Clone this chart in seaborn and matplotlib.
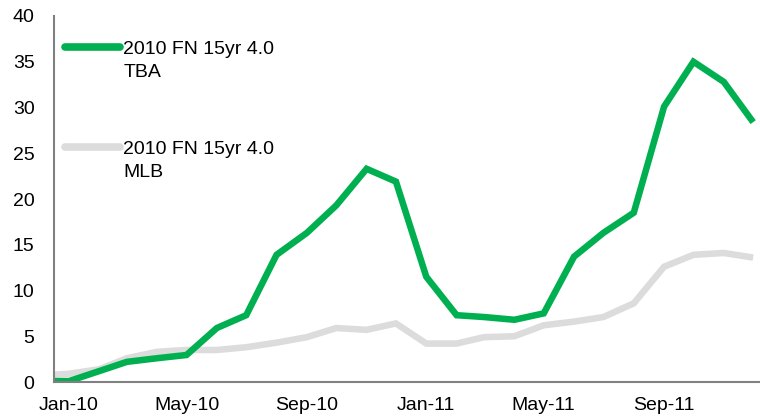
import matplotlib
matplotlib.use("Agg")
import matplotlib.pyplot as plt
import matplotlib.dates as mdates
from matplotlib.lines import Line2D
import seaborn as sns
import pandas as pd

dates = ["2009-12-17",
         "2010-01-01", "2010-02-01", "2010-03-01", "2010-04-01", "2010-05-01", "2010-06-01",
         "2010-07-01", "2010-08-01", "2010-09-01", "2010-10-01", "2010-11-01", "2010-12-01",
         "2011-01-01", "2011-02-01", "2011-03-01", "2011-04-01", "2011-05-01", "2011-06-01",
         "2011-07-01", "2011-08-01", "2011-09-01", "2011-10-01", "2011-11-01", "2011-12-01"]
tba = [0.1, 0.1, 1.2, 2.2, 2.6, 2.95, 5.9, 7.3, 13.9, 16.3, 19.3, 23.3, 21.9,
       11.5, 7.3, 7.1, 6.8, 7.5, 13.7, 16.3, 18.5, 30.1, 35.0, 32.8, 28.4]
mlb = [0.8, 0.9, 1.4, 2.6, 3.3, 3.5, 3.5, 3.8, 4.3, 4.9, 5.9, 5.7, 6.4,
       4.2, 4.2, 4.9, 5.0, 6.2, 6.6, 7.1, 8.6, 12.6, 13.9, 14.1, 13.6]
series_first = ["2010 FN 15yr 4.0", "2010 FN 15yr 4.0"]
series_second = ["TBA", "MLB"]
series_names = [a + " " + b for a, b in zip(series_first, series_second)]
tick_dates = ["2010-01-01", "2010-05-01", "2010-09-01", "2011-01-01", "2011-05-01", "2011-09-01"]
yticks = [0, 5, 10, 15, 20, 25, 30, 35, 40]

df = pd.concat([
    pd.DataFrame({"date": pd.to_datetime(dates), "value": tba, "series": series_names[0]}),
    pd.DataFrame({"date": pd.to_datetime(dates), "value": mlb, "series": series_names[1]}),
])

sns.set_theme(style="white")
plt.rcParams["font.family"] = ["Liberation Sans", "DejaVu Sans"]
plt.rcParams["text.color"] = "black"
FS = 14

fig = plt.figure(figsize=(7.6, 4.19), dpi=100)
ax = fig.add_axes([54 / 760, 1 - 382 / 419, 1 - 54 / 760, (382 - 16) / 419])

palette = {series_names[0]: "#00B050", series_names[1]: "#DCDCDC"}
sns.lineplot(data=df, x="date", y="value", hue="series", hue_order=series_names[::-1],
             palette=palette, linewidth=4.7, ax=ax, legend=False,
             solid_joinstyle="miter", solid_capstyle="butt")

ax.set_xlim(pd.Timestamp("2009-12-16 14:00"), pd.Timestamp("2011-12-08"))
ax.set_ylim(0, 40)
ax.set_yticks(yticks)
ax.set_xticks(pd.to_datetime(tick_dates))
ax.xaxis.set_major_formatter(mdates.DateFormatter("%b-%y"))
ax.set_xlabel("")
ax.set_ylabel("")
ax.tick_params(axis="y", length=0, pad=14.0, labelsize=FS, colors="black")
ax.tick_params(axis="x", length=0, pad=10.5, labelsize=FS, colors="black")
for s in ["top", "right"]:
    ax.spines[s].set_visible(False)
for s in ["left", "bottom"]:
    ax.spines[s].set_color("#808080")
    ax.spines[s].set_linewidth(1.5)

handles = [Line2D([], [], color=palette[n], linewidth=5.5, solid_capstyle="round") for n in series_names]
leg = ax.legend(handles, series_first, loc="upper left", bbox_to_anchor=(11 / 706, 1 - 24 / 366),
                frameon=False, fontsize=FS, handlelength=2.85, handletextpad=0.15,
                labelspacing=4.25, borderaxespad=0.0, borderpad=0.0, labelcolor="black")
fig.canvas.draw()
for t, second in zip(leg.get_texts(), series_second):
    ax.annotate(second, xy=(0, 0), xycoords=t, xytext=(0, -6), textcoords="offset pixels",
                ha="left", va="top", fontsize=FS, color="black")

fig.savefig("out.png", dpi=100)
